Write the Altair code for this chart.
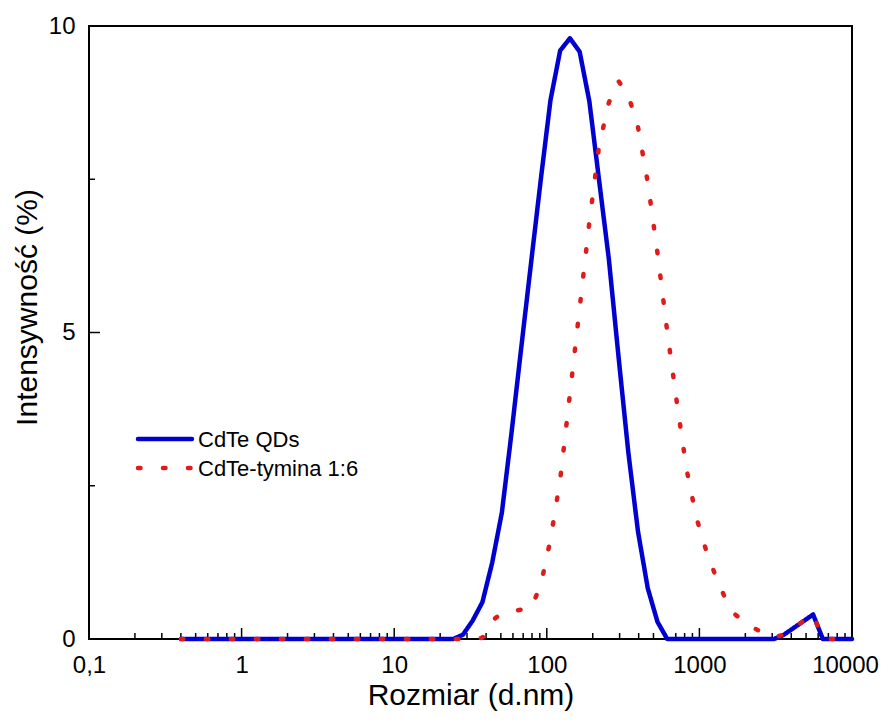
import altair as alt
import pandas as pd

# DLS size bins (d.nm)
SIZES = [0.4, 0.4632, 0.5365, 0.6213, 0.7195, 0.8332, 0.9649, 1.117, 1.294, 1.499,
         1.736, 2.010, 2.328, 2.696, 3.122, 3.615, 4.187, 4.849, 5.615, 6.503,
         7.531, 8.721, 10.10, 11.70, 13.54, 15.69, 18.17, 21.04, 24.36, 28.21,
         32.67, 37.84, 43.82, 50.75, 58.77, 68.06, 78.82, 91.28, 105.7, 122.4,
         141.8, 164.2, 190.1, 220.2, 255.0, 295.3, 342.0, 396.1, 458.7, 531.2,
         615.1, 712.4, 825.0, 955.4, 1106, 1281, 1484, 1718, 1990, 2305,
         2669, 3091, 3580, 4145, 4801, 5560, 6439, 7456, 8635, 10000]

QDS = [0, 0, 0, 0, 0, 0, 0, 0, 0, 0,
       0, 0, 0, 0, 0, 0, 0, 0, 0, 0,
       0, 0, 0, 0, 0, 0, 0, 0, 0, 0.07,
       0.3, 0.6, 1.24, 2.06, 3.37, 4.76, 6.13, 7.49, 8.79, 9.6,
       9.8, 9.58, 8.77, 7.48, 6.2, 4.6, 3.05, 1.75, 0.83, 0.28,
       0, 0, 0, 0, 0, 0, 0, 0, 0, 0,
       0, 0, 0.07, 0.18, 0.29, 0.4, 0, 0, 0, 0]

TYMINA = [0, 0, 0, 0, 0, 0, 0, 0, 0, 0,
          0, 0, 0, 0, 0, 0, 0, 0, 0, 0,
          0, 0, 0, 0, 0, 0, 0, 0, 0, 0,
          0, 0.02, 0.3, 0.42, 0.45, 0.48, 0.5, 0.88, 1.62, 2.6,
          4.0, 5.4, 6.8, 8.05, 8.75, 9.1, 8.87, 8.35, 7.45, 6.3,
          5.02, 3.85, 2.76, 1.98, 1.45, 1.02, 0.65, 0.4, 0.27, 0.17,
          0.09, 0.03, 0.07, 0.18, 0.29, 0.4, 0, 0, 0, 0]

SERIES = ["CdTe QDs", "CdTe-tymina 1:6"]
COLORS = ["#0000D0", "#E01B1B"]
DASHES = [[1, 0], [2.5, 22.5]]

X_MAJOR = [0.1, 1, 10, 100, 1000, 10000]
X_MINOR = [0.2, 0.3, 0.4, 0.5, 0.6, 0.7, 0.8, 0.9,
           2, 3, 4, 5, 6, 7, 8, 9,
           20, 30, 40, 50, 60, 70, 80, 90,
           200, 300, 400, 500, 600, 700, 800, 900,
           2000, 3000, 4000, 5000, 6000, 7000, 8000, 9000]
Y_MAJOR = [0, 5, 10]
Y_MINOR = [2.5, 7.5]

X_TITLE = "Rozmiar (d.nm)"
Y_TITLE = "Intensywność (%)"

W, H = 763, 613
FONT = "Liberation Sans, Arial, sans-serif"

rows = []
for s, vals in zip(SERIES, [QDS, TYMINA]):
    for x, v in zip(SIZES, vals):
        rows.append({"size": x, "intensity": v, "series": s})
df = pd.DataFrame(rows)

xscale = alt.Scale(type="log", domain=[0.1, 10000], nice=False)
yscale = alt.Scale(domain=[0, 10], nice=False, zero=False)

xaxis = alt.Axis(values=X_MAJOR, title=X_TITLE,
                 labelExpr="replace(format(datum.value, '~g'), '.', ',')",
                 labelFontSize=24, labelPadding=14, labelFlush=False, labelOverlap=False,
                 labelOffset={"condition": {"test": "datum.value >= 10000", "value": -7}, "value": 0},
                 ticks=False, tickSize=0, domain=False, grid=False,
                 titleFontSize=30, titleFontWeight="normal", titleY=65,
                 titleBaseline="alphabetic")
yaxis = alt.Axis(values=Y_MAJOR, title=Y_TITLE,
                 labelFontSize=24, labelPadding=14, labelFlush=False, labelOverlap=False,
                 ticks=False, tickSize=0, domain=False, grid=False,
                 titleFontSize=30, titleFontWeight="normal", titleX=-53, titleY=281,
                 titleBaseline="alphabetic", titleAlign="center")

lines = alt.Chart(df).mark_line(strokeWidth=4.5, strokeCap="round", strokeJoin="round").encode(
    x=alt.X("size:Q", scale=xscale, axis=xaxis),
    y=alt.Y("intensity:Q", scale=yscale, axis=yaxis),
    color=alt.Color("series:N", scale=alt.Scale(domain=SERIES, range=COLORS), legend=None),
    strokeDash=alt.StrokeDash("series:N", scale=alt.Scale(domain=SERIES, range=DASHES), legend=None),
    order=alt.Order("size:Q"),
)

xmaj = alt.Chart(pd.DataFrame({"size": X_MAJOR})).mark_rule(color="black", strokeWidth=1.5).encode(
    x=alt.X("size:Q", scale=xscale, axis=xaxis), y=alt.value(H), y2=alt.value(H - 11))
xmin = alt.Chart(pd.DataFrame({"size": X_MINOR})).mark_rule(color="black", strokeWidth=1.5).encode(
    x=alt.X("size:Q", scale=xscale, axis=xaxis), y=alt.value(H), y2=alt.value(H - 6))
ymaj = alt.Chart(pd.DataFrame({"intensity": Y_MAJOR})).mark_rule(color="black", strokeWidth=1.5).encode(
    y=alt.Y("intensity:Q", scale=yscale, axis=yaxis), x=alt.value(0), x2=alt.value(11))
ymin = alt.Chart(pd.DataFrame({"intensity": Y_MINOR})).mark_rule(color="black", strokeWidth=1.5).encode(
    y=alt.Y("intensity:Q", scale=yscale, axis=yaxis), x=alt.value(0), x2=alt.value(6))

# in-plot legend (key samples + labels)
leg_df = pd.DataFrame({"series": SERIES})
LEG_Y = [413, 442]
legend_layers = []
for i, s in enumerate(SERIES):
    sub = alt.Chart(leg_df).transform_filter(alt.datum.series == s)
    legend_layers.append(
        sub.mark_rule(color=COLORS[i], strokeWidth=4.5, strokeCap="round",
                      strokeDash=DASHES[i]).encode(
            x=alt.value(49), x2=alt.value(103), y=alt.value(LEG_Y[i]))
    )
    legend_layers.append(
        sub.mark_text(align="left", baseline="middle", fontSize=22, color="black").encode(
            x=alt.value(109), y=alt.value(LEG_Y[i] + 1), text="series:N")
    )

chart = alt.layer(xmaj, xmin, ymaj, ymin, lines, *legend_layers).properties(
    width=W, height=H,
    autosize=alt.AutoSizeParams(type="none"),
    padding={"left": 81, "top": 18, "right": 29, "bottom": 72},
).configure(font=FONT).configure_view(
    stroke="black", strokeWidth=2
).configure_axis(labelColor="black", titleColor="black")

chart.save("out.html", embed_options={"renderer": "svg", "actions": False})
